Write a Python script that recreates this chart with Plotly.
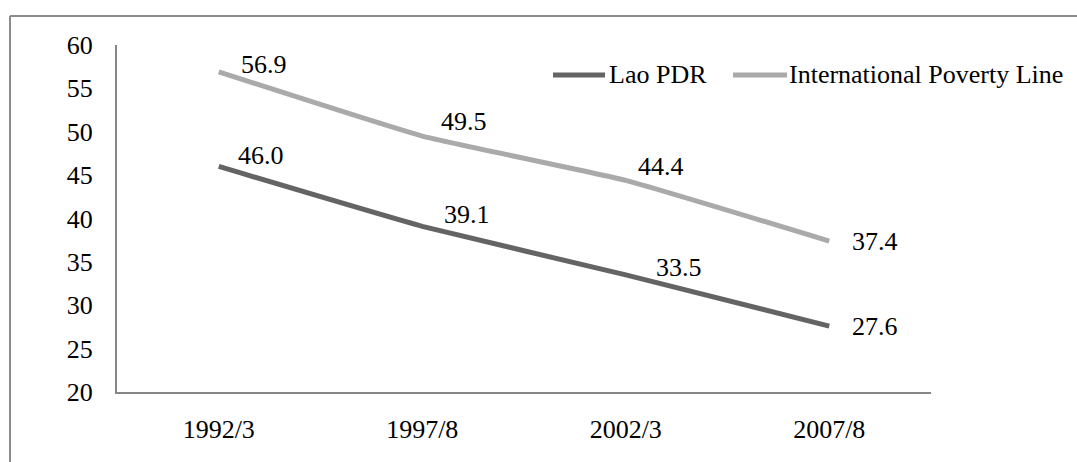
import plotly.graph_objects as go

# Survey rounds and poverty headcount (%)
periods = ["1992/3", "1997/8", "2002/3", "2007/8"]
lao_pdr = [46.0, 39.1, 33.5, 27.6]
intl_line = [56.9, 49.5, 44.4, 37.4]

series_names = ["Lao PDR", "International Poverty Line"]
series_colors = ["#646464", "#AAAAAA"]
y_ticks = [20, 25, 30, 35, 40, 45, 50, 55, 60]

FONT = "Liberation Serif"
FSIZE = 26
W, H = 1077, 462
L, R, T, B = 117, 146, 45, 70
PW, PH = W - L - R, H - T - B


def px_x(x):
    return (x - L) / PW


def px_y(y):
    return (H - B - y) / PH


fig = go.Figure()
for name, vals, col in zip(series_names, [lao_pdr, intl_line], series_colors):
    fig.add_trace(go.Scatter(
        x=periods, y=vals, mode="lines", name=name,
        line=dict(color=col, width=5, shape="spline", smoothing=0.35),
        showlegend=False, hoverinfo="skip",
    ))

# value labels (pixel offsets relative to each point)
lao_offsets = [(42, 11), (45, 12), (53, 7), (46, 0)]
intl_offsets = [(45, 7), (42, 15), (35, 14), (46, 0)]
for vals, offs in [(lao_pdr, lao_offsets), (intl_line, intl_offsets)]:
    for p, v, (dx, dy) in zip(periods, vals, offs):
        fig.add_annotation(
            x=p, y=v, xref="x", yref="y", text=f"{v:.1f}", showarrow=False,
            xanchor="center", yanchor="middle", xshift=dx, yshift=dy,
            font=dict(family=FONT, size=FSIZE, color="#000000"),
        )

# legend drawn as line samples with labels
legend_items = [
    (553, 605, 607, series_names[0], series_colors[0]),
    (733, 787, 787, series_names[1], series_colors[1]),
]
ly = px_y(75)
for x0, x1, xt, label, col in legend_items:
    fig.add_shape(type="line", xref="paper", yref="paper",
                  x0=px_x(x0), x1=px_x(x1), y0=ly, y1=ly,
                  line=dict(color=col, width=5))
    fig.add_annotation(x=px_x(xt), y=ly, xref="paper", yref="paper",
                       text=label, showarrow=False, xanchor="left",
                       yanchor="middle",
                       font=dict(family=FONT, size=FSIZE, color="#000000"))

# outer chart frame (left and top edges visible)
fig.add_shape(type="line", xref="paper", yref="paper",
              x0=px_x(10), x1=px_x(10), y0=px_y(16), y1=px_y(H + 5),
              line=dict(color="#8C8C8C", width=2))
fig.add_shape(type="line", xref="paper", yref="paper",
              x0=px_x(10), x1=px_x(W + 5), y0=px_y(16), y1=px_y(16),
              line=dict(color="#8C8C8C", width=2))

fig.update_layout(
    width=W, height=H,
    margin=dict(l=L, r=R, t=T, b=B, pad=0),
    paper_bgcolor="white", plot_bgcolor="white",
    font=dict(family=FONT, size=FSIZE, color="#000000"),
    showlegend=False,
)
fig.update_xaxes(
    type="category", range=[-0.5, 3.5], showgrid=False, zeroline=False,
    showline=True, linecolor="#868686", linewidth=2,
    ticks="", ticklabelstandoff=13,
    tickfont=dict(family=FONT, size=FSIZE, color="#000000"),
)
fig.update_yaxes(
    range=[20, 60], tickvals=y_ticks, showgrid=False, zeroline=False,
    showline=True, linecolor="#868686", linewidth=2,
    ticks="", ticklabelstandoff=17,
    tickfont=dict(family=FONT, size=FSIZE, color="#000000"),
)

fig.write_html("out.html")
